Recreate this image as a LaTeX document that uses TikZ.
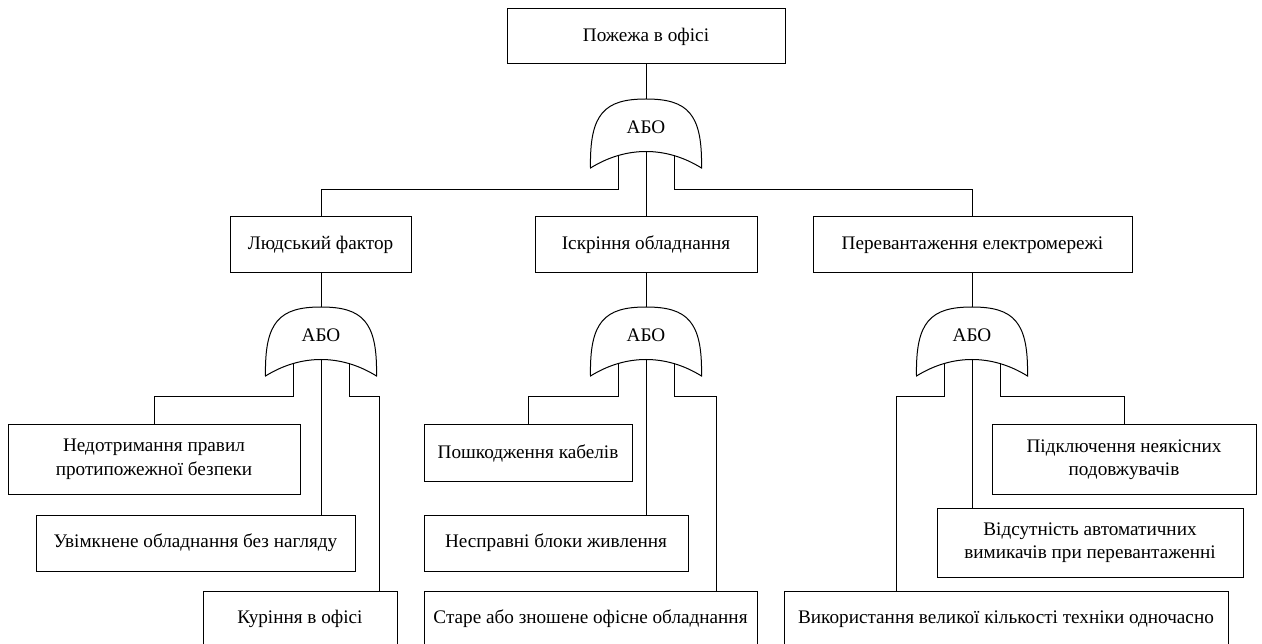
\documentclass[tikz,border=0pt]{standalone}
\usepackage{fontspec}
\setmainfont{Liberation Serif}
\begin{document}
\begin{tikzpicture}[x=1pt,y=-1pt,
  every node/.style={font=\fontsize{19.2}{23.5}\selectfont},
  event/.style args={#1x#2}{draw, line width=1pt, rectangle, inner sep=0pt,
    minimum width=#1pt, minimum height=#2pt, align=center},
  wire/.style={line width=1pt},
  orgate/.pic={
    \draw[wire, fill=white] (-55.5,69) .. controls (-56.5,15) and (-42,0) .. (0,0)
      .. controls (42,0) and (56.5,15) .. (55.5,69)
      .. controls (20,47) and (-20,47) .. cycle;
    \node[inner sep=0pt] (-lbl) at (0,28) {АБО};
    \coordinate (-t) at (0,0);
    \coordinate (-l) at (-28,56.5);
    \coordinate (-c) at (0,52.5);
    \coordinate (-r) at (28,56.5);
  }]
\useasboundingbox (0,0) rectangle (1262,644);

% top event and first gate
\node[event=278x55] (top) at (646,36.5) {Пожежа в офісі};
\pic (g0) at (646,99) {orgate};

% intermediate events
\node[event=181x56] (A) at (320.5,245) {Людський фактор};
\node[event=222x56] (B) at (646,245) {Іскріння обладнання};
\node[event=319x56] (C) at (972.5,245) {Перевантаження електромережі};

% second-level gates
\pic (g1) at (321,307) {orgate};
\pic (g2) at (646,307) {orgate};
\pic (g3) at (972,307) {orgate};

% basic events
\node[event=292x69] (L1) at (154,459.5) {Недотримання правил\\протипожежної безпеки};
\node[event=319x56] (L2) at (195.5,543) {Увімкнене обладнання без нагляду};
\node[event=194x56] (L3) at (300,619) {Куріння в офісі};
\node[event=208x56] (M1) at (528,453) {Пошкодження кабелів};
\node[event=264x56] (M2) at (556,543) {Несправні блоки живлення};
\node[event=333x56] (M3) at (590.5,619) {Старе або зношене офісне обладнання};
\node[event=264x69] (R1) at (1124,459.5) {Підключення неякісних\\подовжувачів};
\node[event=306x69] (R2) at (1090,542.5) {Відсутність автоматичних\\вимикачів при перевантаженні};
\node[event=444x56] (R3) at (1006,619) {Використання великої кількості техніки одночасно};

% elbow points of the connectors
\coordinate (k0l) at (321,190);
\coordinate (k0r) at (972,190);
\coordinate (k1l) at (154,397);
\coordinate (k1r) at (379,397);
\coordinate (k2l) at (528,397);
\coordinate (k2r) at (716,397);
\coordinate (k3l) at (896,397);
\coordinate (k3r) at (1124,397);

% connectors
\draw[wire] (top.south) -- (g0-t);
\draw[wire] (g0-l) |- (k0l) -- (k0l |- A.north);
\draw[wire] (g0-c) -- (B.north);
\draw[wire] (g0-r) |- (k0r) -- (k0r |- C.north);

\draw[wire] (g1-t |- A.south) -- (g1-t);
\draw[wire] (B.south) -- (g2-t);
\draw[wire] (g3-t |- C.south) -- (g3-t);

\draw[wire] (g1-l) |- (k1l) -- (k1l |- L1.north);
\draw[wire] (g1-c) -- (g1-c |- L2.north);
\draw[wire] (g1-r) |- (k1r) -- (k1r |- L3.north);

\draw[wire] (g2-l) |- (k2l) -- (k2l |- M1.north);
\draw[wire] (g2-c) -- (g2-c |- M2.north);
\draw[wire] (g2-r) |- (k2r) -- (k2r |- M3.north);

\draw[wire] (g3-l) |- (k3l) -- (k3l |- R3.north);
\draw[wire] (g3-c) -- (g3-c |- R2.north);
\draw[wire] (g3-r) |- (k3r) -- (k3r |- R1.north);
\end{tikzpicture}
\end{document}
